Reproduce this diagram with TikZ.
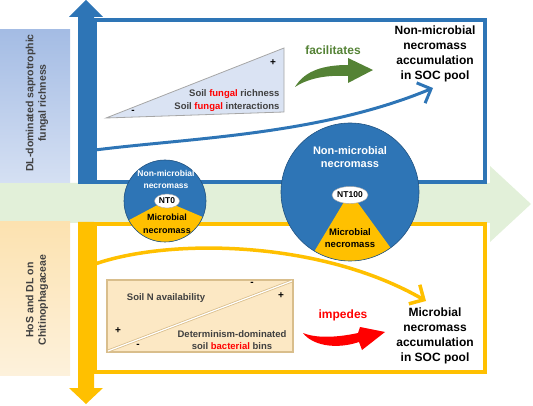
\documentclass[tikz,border=0pt]{standalone}
\usepackage{fontspec}
\setmainfont{Liberation Sans}
\usetikzlibrary{arrows.meta,
    shapes.geometric}

\definecolor{nmblue}{HTML}{2E75B6}
\definecolor{mgold}{HTML}{FFC000}
\definecolor{trifill}{HTML}{DAE3F3}
\definecolor{peach}{HTML}{FCE8C4}
\definecolor{rectedge}{HTML}{D9BE8C}
\definecolor{facgreen}{HTML}{548235}
\definecolor{bandgreen}{HTML}{E2F0D9}
\definecolor{darktext}{HTML}{404040}
\definecolor{sidetop}{HTML}{A4BCE4}
\definecolor{sidebot}{HTML}{D5E0F3}
\definecolor{sidetopo}{HTML}{FCE2B0}

\tikzset{
    lbl/.style={font=\bfseries\fontsize{9.5}{11}\selectfont, text=darktext},
    sidelbl/.style={font=\bfseries\fontsize{10.5}{12.5}\selectfont, text=darktext,
        align=center, rotate=90},
    ttl/.style={font=\bfseries\fontsize{12}{15}\selectfont, align=center},
    verb/.style={font=\bfseries\fontsize{12}{14}\selectfont},
    ntlabel/.style={ellipse, draw=gray!70, fill=white, inner sep=0pt,
        font=\bfseries\fontsize{8.5}{10}\selectfont},
    signlbl/.style={font=\bfseries\fontsize{10}{10}\selectfont}
}

\begin{document}
\begin{tikzpicture}[x=1pt,y=-1pt]
                  \useasboundingbox (0,0) rectangle (533,406);
                  % middle band
                  \fill[bandgreen] (0,183) -- (490,183) -- (490,166) -- (531,204)
                      -- (490,242) -- (490,223) -- (0,223) -- cycle;
                  % side labels
                  \shade[top color=sidetop, bottom color=sidebot]
                      (0,30) rectangle (70,183);
                  \shade[top color=sidetopo, bottom color=peach!60]
                      (0,222) rectangle (70,375);
                  \node[sidelbl] (fungLbl) at (37,103) {DL-dominated saprotrophic\\fungal richness};
                  \node[sidelbl] (bactLbl) at (37,300) {HoS and DL on\\Chitinophagaceae};
                  % boxes
                  \draw[nmblue, line width=3.5] (95,20) rectangle (485,182);
                  \draw[mgold, line width=3.5] (95,224) rectangle (485,372);
                  % vertical arrows
                  \fill[nmblue] (78,184) -- (78,17) -- (69,17) -- (86,0) -- (103,17)
                      -- (94,17) -- (94,184) -- cycle;
                  \fill[mgold] (78,222) -- (78,388) -- (69,388) -- (86,404) -- (103,388)
                      -- (94,388) -- (94,222) -- cycle;
                  % fungal wedge
                  \filldraw[fill=trifill, draw=gray!70, line width=0.8]
                      (106,118) -- (284,112) -- (284,48) -- cycle;
                  \node[lbl, anchor=east] (richTxt) at (283,94) {Soil \textcolor{red}{fungal} richness};
                  \node[lbl, anchor=east] (interTxt) at (283,107) {Soil \textcolor{red}{fungal} interactions};
                  \node[signlbl] at (273,63) {+};
                  \node[signlbl] at (133,112) {-};
                  % bacterial box
                  \filldraw[fill=peach, draw=rectedge, line width=1.2] (107,280) rectangle (293,352);
                  \draw[rectedge, double=white, double distance=1.2pt, line width=0.8]
                      (108,351) -- (292,281);
                  \node[lbl] (nTxt) at (166,298) {Soil N availability};
                  \node[lbl, align=center, font=\bfseries\fontsize{9.5}{12}\selectfont]
                      (detTxt) at (232,340) {Determinism-dominated\\soil \textcolor{red}{bacterial} bins};
                  \node[signlbl] at (118,331) {+};
                  \node[signlbl] at (138,346) {-};
                  \node[signlbl] at (252,284) {-};
                  \node[signlbl] at (281,296) {+};
                  % outcomes
                  \node[ttl] (nmTitle) at (435,54) {Non-microbial\\necromass\\accumulation\\in SOC pool};
                  \node[ttl] (mTitle) at (435,336) {Microbial\\necromass\\accumulation\\in SOC pool};
                  \coordinate (nmStart) at (95,150);
                  \coordinate (nmEnd) at (433,88);
                  \coordinate (mStart) at (95,264);
                  \coordinate (mEnd) at (426,301);
                  \draw[nmblue, line width=3, -{Straight Barb[length=11pt, width=22pt]}]
                      (nmStart) .. controls (190,138) and (320,135) .. (nmEnd);
                  \draw[mgold, line width=3.5, -{Straight Barb[length=11pt, width=22pt]}]
                      (mStart) .. controls (170,238) and (320,240) .. (mEnd);
                  % facilitates / impedes
                  \fill[facgreen] (295,87) .. controls (305,70) and (325,65) .. (348,65)
                      -- (348,58) -- (373,70) -- (348,83) -- (348,76)
                      .. controls (330,75) and (310,77) .. (295,87) -- cycle;
                  \node[verb, text=facgreen] (facTxt) at (333,50) {facilitates};
                  \fill[red] (303,333) .. controls (315,338) and (335,338) .. (358,333)
                      -- (360,327) -- (385,332) -- (362,350) -- (359,342)
                      .. controls (335,350) and (312,345) .. (303,333) -- cycle;
                  \node[verb, text=red] (impTxt) at (343,315) {impedes};
                  % NT0 pool
                  \fill[nmblue] (165,201) circle (41);
                  \fill[mgold] (165,201) -- ++(23:41) arc[start angle=23, end angle=152, radius=41] -- cycle;
                  \draw[nmblue!70!black, line width=0.6] (165,201) circle (41);
                  \node[ntlabel, minimum width=25pt, minimum height=14pt] (nt0) at (167,201) {NT0};
                  \node[text=white, align=center, font=\bfseries\fontsize{8.5}{12}\selectfont]
                      (nm0Txt) at (166,179) {Non-microbial\\necromass};
                  \node[align=center, font=\bfseries\fontsize{9}{13}\selectfont]
                      (m0Txt) at (167,224) {Microbial\\necromass};
                  % NT100 pool
                  \fill[nmblue] (350,192) circle (69);
                  \fill[mgold] (350,192) -- ++(54:69) arc[start angle=54, end angle=121, radius=69] -- cycle;
                  \draw[nmblue!70!black, line width=0.6] (350,192) circle (69);
                  \node[ntlabel, minimum width=34pt, minimum height=17pt] (nt100) at (350,195) {NT100};
                  \node[text=white, align=center, font=\bfseries\fontsize{11}{13.5}\selectfont]
                      (nm100Txt) at (350,157) {Non-microbial\\necromass};
                  \node[align=center, font=\bfseries\fontsize{9.5}{12.5}\selectfont]
                      (m100Txt) at (350,238) {Microbial\\necromass};
              \end{tikzpicture}
\end{document}
